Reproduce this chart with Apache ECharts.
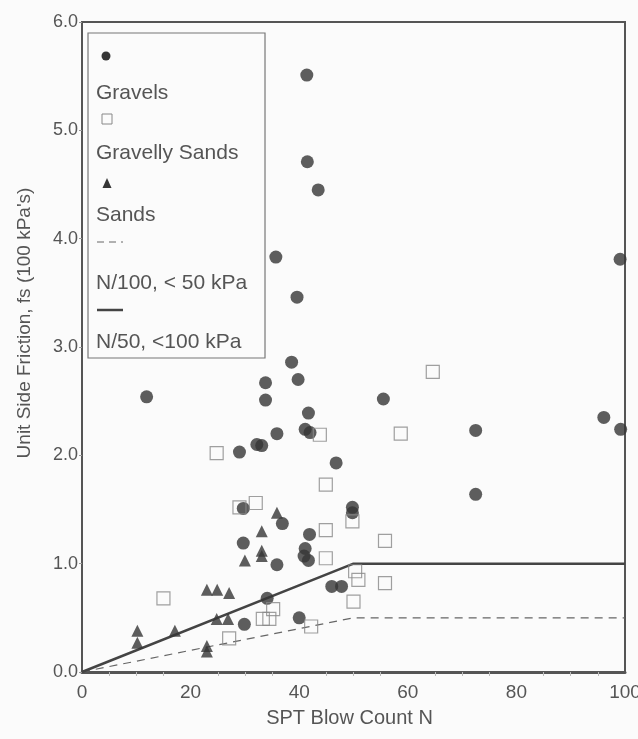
<!DOCTYPE html>
<html>
<head>
<meta charset="utf-8">
<script src="https://cdn.jsdelivr.net/npm/echarts@6/dist/echarts.min.js"></script>
<style>
  html, body { margin: 0; padding: 0; background: #fbfbfb; }
  #chart { width: 638px; height: 739px; }
</style>
</head>
<body>
<div id="chart"></div>
<script>
// values: [SPT N, unit side friction (100 kPa)]
const gravels = [
  [41.4, 5.51], [41.5, 4.71], [43.5, 4.45], [35.7, 3.83], [39.6, 3.46],
  [38.6, 2.86], [39.8, 2.70], [33.8, 2.67], [33.8, 2.51], [41.7, 2.39],
  [55.5, 2.52], [35.9, 2.20], [41.1, 2.24], [42.0, 2.21], [32.2, 2.10],
  [33.1, 2.09], [46.8, 1.93], [11.9, 2.54], [29.0, 2.03], [29.7, 1.51],
  [29.7, 1.19], [35.9, 0.99], [34.1, 0.68], [29.9, 0.44], [49.8, 1.52],
  [49.8, 1.47], [36.9, 1.37], [41.9, 1.27], [41.1, 1.14], [41.7, 1.03],
  [40.9, 1.07], [46.0, 0.79], [47.8, 0.79], [40.0, 0.50], [99.1, 3.81],
  [72.5, 2.23], [96.1, 2.35], [99.2, 2.24], [72.5, 1.64]
];
const gravellySands = [
  [24.8, 2.02], [29.0, 1.52], [32.0, 1.56], [15.0, 0.68], [33.3, 0.49],
  [34.5, 0.49], [35.2, 0.58], [27.1, 0.31], [43.8, 2.19], [64.6, 2.77],
  [58.7, 2.20], [44.9, 1.73], [44.9, 1.31], [44.9, 1.05], [49.8, 1.39],
  [55.8, 1.21], [55.8, 0.82], [50.9, 0.85], [50.3, 0.93], [50.0, 0.65],
  [42.2, 0.42]
];
const sands = [
  [10.2, 0.38], [10.2, 0.27], [17.1, 0.38], [23.0, 0.76], [24.9, 0.76],
  [27.1, 0.73], [24.8, 0.49], [26.9, 0.49], [23.0, 0.24], [23.0, 0.19],
  [33.1, 1.30], [33.1, 1.12], [33.1, 1.07], [30.0, 1.03], [35.9, 1.47]
];
const lineN100 = [[0, 0], [50, 0.5], [100, 0.5]];
const lineN50 = [[0, 0], [50, 1.0], [100, 1.0]];
const legendLabels = ['Gravels', 'Gravelly Sands', 'Sands', 'N/100, < 50 kPa', 'N/50, <100 kPa'];

const INK = '#363636';
const TEXT = '#555';
const FONT = 'Liberation Sans, Arial, sans-serif';

// legend drawn by hand: symbol on its own row, label underneath
function legendGraphic() {
  const tx = 96;
  const txt = (y, s) => ({ type: 'text', z: 101,
    style: { x: tx, y: y, text: s, fill: TEXT, font: '21px ' + FONT, verticalAlign: 'middle' } });
  return [
    { type: 'rect', z: 100, shape: { x: 88, y: 33, width: 177, height: 325 },
      style: { fill: '#fbfbfb', stroke: '#777', lineWidth: 1.2 } },
    { type: 'circle', z: 101, shape: { cx: 106, cy: 56, r: 4.5 }, style: { fill: INK } },
    txt(93, legendLabels[0]),
    { type: 'rect', z: 101, shape: { x: 102, y: 114, width: 10, height: 10 }, style: { fill: 'none', stroke: '#888', lineWidth: 1 } },
    txt(153, legendLabels[1]),
    { type: 'polygon', z: 101, shape: { points: [[107, 178], [102.5, 188], [111.5, 188]] }, style: { fill: INK } },
    txt(215, legendLabels[2]),
    { type: 'line', z: 101, shape: { x1: 97, y1: 242, x2: 123, y2: 242 }, style: { stroke: '#666', lineWidth: 1, lineDash: [7, 5] } },
    txt(283, legendLabels[3]),
    { type: 'line', z: 101, shape: { x1: 97, y1: 310, x2: 123, y2: 310 }, style: { stroke: '#444', lineWidth: 2.5 } },
    txt(342, legendLabels[4])
  ];
}

const chart = echarts.init(document.getElementById('chart'));
chart.setOption({
  backgroundColor: '#fbfbfb',
  animation: false,
  grid: { left: 82, right: 13, top: 22, bottom: 67, show: true, borderColor: '#555', borderWidth: 2,
    outerBoundsMode: 'none', containLabel: false },
  xAxis: {
    type: 'value', min: 0, max: 100, interval: 20,
    name: 'SPT Blow Count N', nameLocation: 'middle', nameGap: 36,
    nameTextStyle: { color: TEXT, fontSize: 20, fontFamily: FONT, padding: [0, 8, 0, 0] },
    axisLine: { lineStyle: { color: '#555', width: 3 } },
    axisTick: { show: false },
    minorTick: { show: true, splitNumber: 4, length: 4, lineStyle: { color: '#bbb' } },
    splitLine: { show: false },
    axisLabel: { color: TEXT, fontSize: 19, fontFamily: FONT, margin: 11 }
  },
  yAxis: {
    type: 'value', min: 0, max: 6, interval: 1,
    name: "Unit Side Friction, fs (100 kPa's)", nameLocation: 'middle', nameGap: 48,
    nameTextStyle: { color: TEXT, fontSize: 19, fontFamily: FONT, padding: [0, 0, 0, 48] },
    axisLine: { lineStyle: { color: '#555', width: 2 } },
    axisTick: { show: true, inside: false, length: 3, lineStyle: { color: '#999' } },
    splitLine: { show: false },
    axisLabel: { color: TEXT, fontSize: 18, fontFamily: FONT, margin: 4, formatter: v => v.toFixed(1) }
  },
  series: [
    { name: 'N/100', type: 'line', data: lineN100, symbol: 'none',
      lineStyle: { color: '#666', width: 1.2, type: [8, 6] }, z: 1 },
    { name: 'N/50', type: 'line', data: lineN50, symbol: 'none',
      lineStyle: { color: '#444', width: 2.5 }, z: 1 },
    { name: 'Gravelly Sands', type: 'scatter', data: gravellySands, symbol: 'rect', symbolSize: 13,
      itemStyle: { color: 'rgba(255,255,255,0)', borderColor: '#888', borderWidth: 1.2 }, z: 3 },
    { name: 'Sands', type: 'scatter', data: sands, symbol: 'triangle', symbolSize: 12,
      itemStyle: { color: INK }, z: 2 },
    { name: 'Gravels', type: 'scatter', data: gravels, symbol: 'circle', symbolSize: 13,
      itemStyle: { color: INK }, z: 2 }
  ],
  graphic: legendGraphic()
});
</script>
</body>
</html>
